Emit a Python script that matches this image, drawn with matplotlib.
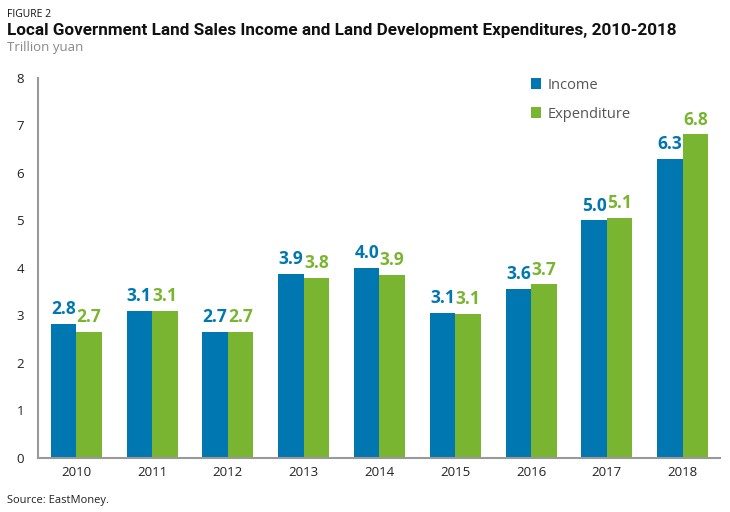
import matplotlib.pyplot as plt
import numpy as np

years = ["2010", "2011", "2012", "2013", "2014", "2015", "2016", "2017", "2018"]
income = [2.82, 3.10, 2.65, 3.87, 4.00, 3.05, 3.55, 5.00, 6.29]
expenditure = [2.65, 3.10, 2.65, 3.79, 3.85, 3.03, 3.65, 5.05, 6.81]
income_lbl = ["2.8", "3.1", "2.7", "3.9", "4.0", "3.1", "3.6", "5.0", "6.3"]
exp_lbl = ["2.7", "3.1", "2.7", "3.8", "3.9", "3.1", "3.7", "5.1", "6.8"]

BLUE = "#0077b0"
GREEN = "#7ab532"
FONT = "Open Sans"

plt.rcParams['font.family'] = [FONT, 'DejaVu Sans']

fig = plt.figure(figsize=(7.3, 5.12), dpi=100)
ax = fig.add_axes([0.052, 0.106, 0.934, 0.742])

x = np.arange(len(years))
w = 0.336
ax.bar(x - w / 2, income, w, color=BLUE, label="Income")
ax.bar(x + w / 2, expenditure, w, color=GREEN, label="Expenditure")

for i in range(len(years)):
    ax.text(x[i] - w / 2, income[i] + 0.12, income_lbl[i], ha='center', va='bottom',
            color=BLUE, fontsize=12.5, fontweight='bold')
    ax.text(x[i] + w / 2, expenditure[i] + 0.12, exp_lbl[i], ha='center', va='bottom',
            color=GREEN, fontsize=12.5, fontweight='bold')

ax.set_xlim(-0.505, 8.49)
ax.set_ylim(0, 8)
ax.set_xticks(x)
ax.set_xticklabels(years)
ax.set_yticks(range(9))
ax.tick_params(length=0, labelsize=9.5, colors="#222222")
ax.tick_params(axis='x', pad=6)
ax.tick_params(axis='y', pad=10)
for s in ['top', 'right']:
    ax.spines[s].set_visible(False)
for s in ['left', 'bottom']:
    ax.spines[s].set_color("#999999")
    ax.spines[s].set_linewidth(1.5)

leg = ax.legend(frameon=False, loc='upper left', bbox_to_anchor=(0.704, 1.035),
                handlelength=0.7, handleheight=0.7, handletextpad=0.4,
                labelspacing=0.95, fontsize=10.5)
for t in leg.get_texts():
    t.set_color("#555555")

fig.text(0.009, 0.972, "FIGURE 2", fontsize=7.5, color="#111111", va='center')
fig.text(0.009, 0.94, "Local Government Land Sales Income and Land Development Expenditures, 2010-2018",
         fontsize=12.3, fontweight='bold', color="#111111", va='center', family='Roboto')
fig.text(0.009, 0.908, "Trillion yuan", fontsize=9.5, color="#888888", va='center')
fig.text(0.009, 0.022, "Source: EastMoney.", fontsize=8, color="#222222", va='center')

fig.savefig("out.png", dpi=100)
